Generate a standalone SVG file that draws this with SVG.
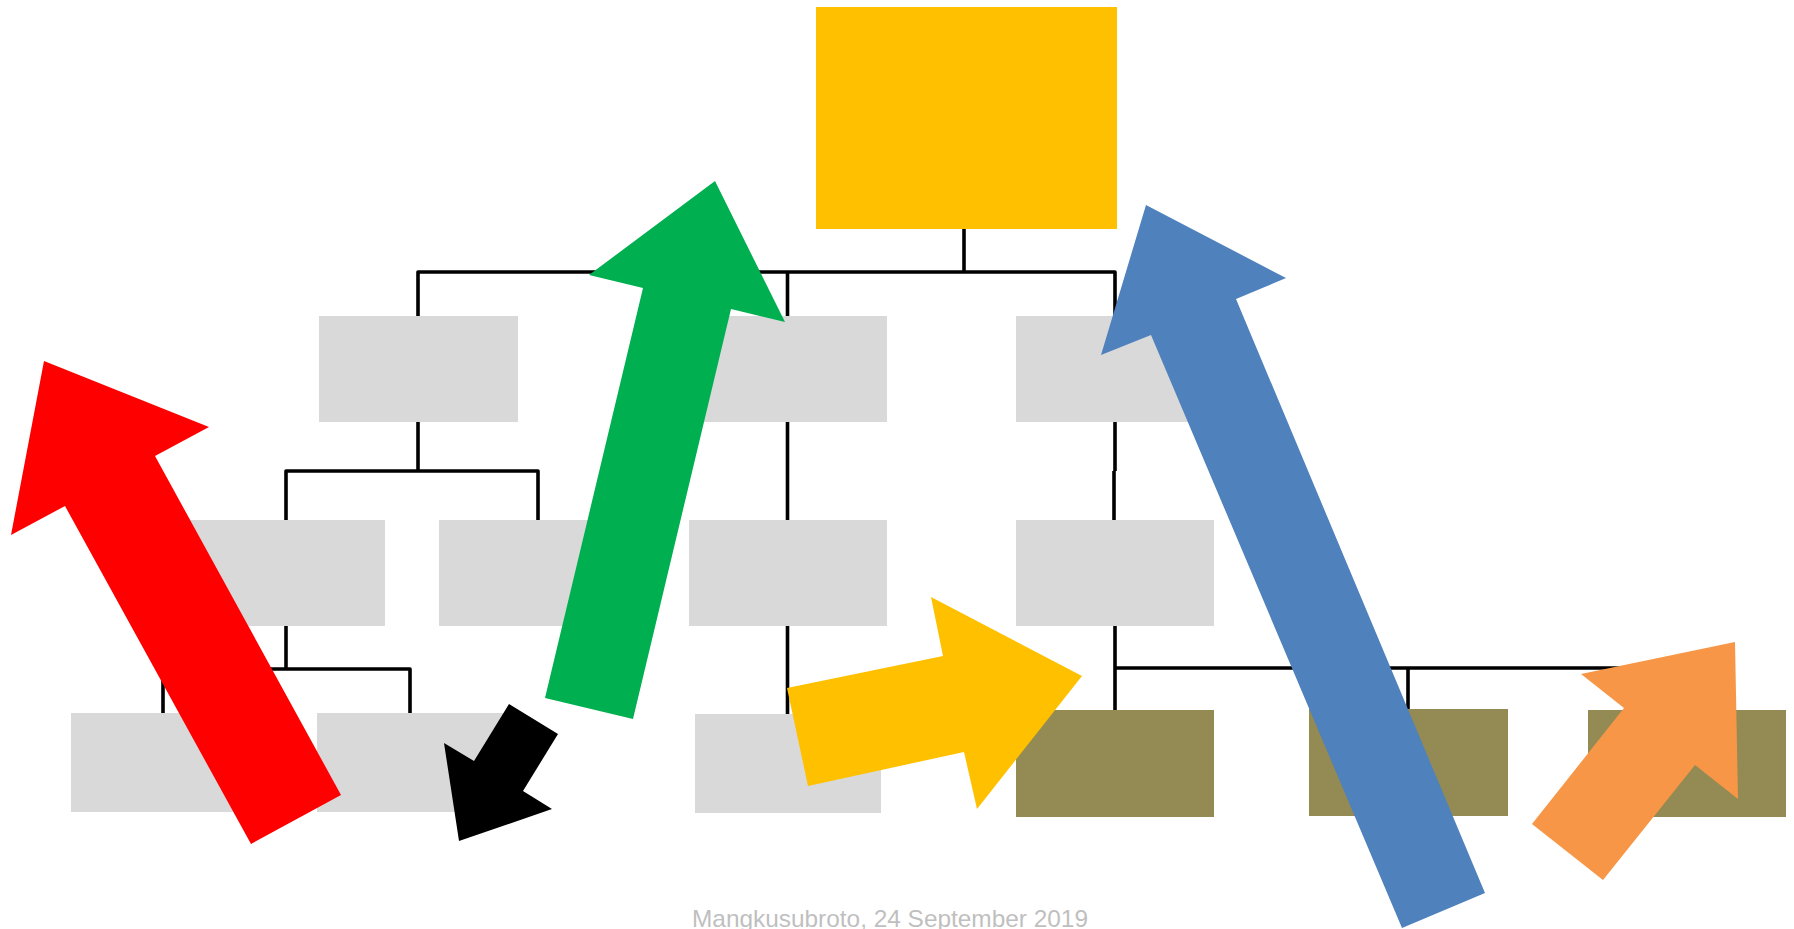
<svg xmlns="http://www.w3.org/2000/svg" width="1794" height="929" viewBox="0 0 1794 929">
<style>
.g{fill:#D9D9D9}
.o{fill:#948A54}
.ln{fill:none;stroke:#000;stroke-width:3.6;stroke-linejoin:round;stroke-linecap:butt}
.cap{font-family:"Liberation Sans",Arial,sans-serif;font-size:24px;fill:#BFBFBF}
</style>
<rect width="1794" height="929" fill="#FFFFFF"/>
<g id="connectors">
<polyline class="ln" points="964,229 964,272"/>
<polyline class="ln" points="418,316 418,272 1115,272 1115,316"/>
<polyline class="ln" points="787.5,272 787.5,316"/>
<polyline class="ln" points="418,422 418,471"/>
<polyline class="ln" points="286,520 286,471 538,471 538,520"/>
<polyline class="ln" points="286,626 286,669"/>
<polyline class="ln" points="163,713 163,669 410,669 410,713"/>
<polyline class="ln" points="787.5,422 787.5,520"/>
<polyline class="ln" points="787.5,626 787.5,714"/>
<polyline class="ln" points="1115,422 1115,471"/>
<polyline class="ln" points="1114,471 1114,520"/>
<polyline class="ln" points="1115,626 1115,710"/>
<polyline class="ln" points="1115,668 1686,668 1686,710"/>
<polyline class="ln" points="1408,668 1408,709"/>
</g>
<g id="top"><rect x="816" y="7" width="301" height="222" fill="#FFC000"/></g>
<g id="nA"><rect class="g" x="319" y="316" width="199" height="106"/></g>
<g id="nB"><rect class="g" x="689" y="316" width="198" height="106"/></g>
<g id="nC"><rect class="g" x="1016" y="316" width="198" height="106"/></g>
<g id="nD"><rect class="g" x="186" y="520" width="199" height="106"/></g>
<g id="nE"><rect class="g" x="439" y="520" width="198" height="106"/></g>
<g id="nF"><rect class="g" x="689" y="520" width="198" height="106"/></g>
<g id="nG"><rect class="g" x="1016" y="520" width="198" height="106"/></g>
<g id="nH"><rect class="g" x="71" y="713" width="198" height="99"/></g>
<g id="nI"><rect class="g" x="317" y="713" width="198" height="99"/></g>
<g id="nJ"><rect class="g" x="695" y="714" width="186" height="99"/></g>
<g id="nK"><rect class="o" x="1016" y="710" width="198" height="107"/></g>
<g id="nL"><rect class="o" x="1309" y="709" width="199" height="107"/></g>
<g id="nM"><rect class="o" x="1588" y="710" width="198" height="107"/></g>
<g id="arrows">
<polygon id="redArrow" fill="#FF0000" points="44,361 209,427 155,456 341,795 251,844 65,506 11,535"/>
<polygon id="blackArrow" fill="#000000" points="509,704 558,734 523,791 552,809 459,841 444,743 474,761"/>
<polygon id="greenArrow" fill="#00B050" points="715,181 785,322 731,309 633,719 545,698 643,288 589,275"/>
<polygon id="yellowArrow" fill="#FFC000" points="787,688 943,656 931,597 1082,676 977,809 964,752 808,786"/>
<polygon id="blueArrow" fill="#4F81BD" points="1146,205 1286,278 1236,299 1485,893 1402,928 1151,335 1101,355"/>
<polygon id="orangeArrow" fill="#F79646" points="1581,674 1735,642 1738,799 1695,765 1603,880 1532,824 1624,708"/>
</g>
<text class="cap" x="692" y="927" textLength="396" lengthAdjust="spacingAndGlyphs">Mangkusubroto, 24 September 2019</text>
</svg>
